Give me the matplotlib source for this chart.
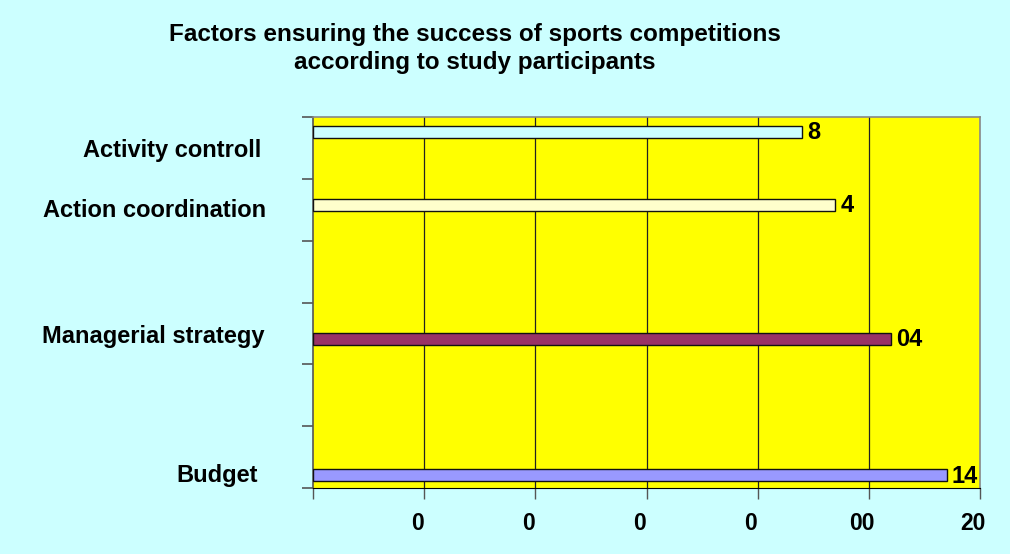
import matplotlib
matplotlib.use("Agg")
import matplotlib.pyplot as plt

# ---- data ----
categories = ["Activity controll", "Action coordination", "Managerial strategy", "Budget"]
values = [88, 94, 104, 114]
value_labels = ["8", "4", "04", "14"]
xtick_values = [0, 20, 40, 60, 80, 100, 120]
xtick_labels = ["", "0", "0", "0", "0", "00", "20"]
title = "Factors ensuring the success of sports competitions\naccording to study participants"

# ---- layout / style ----
bar_colors = ["#CCFFFF", "#FFFFCC", "#993366", "#9999FF"]
bar_y = [5.76, 4.58, 2.41, 0.21]
label_y = [5.46, 4.49, 2.45, 0.21]
label_dx = [52, 47, 48, 55]  # pixels left of the axis
bar_h = 0.19

fig = plt.figure(figsize=(10.10, 5.54), dpi=100, facecolor="#CCFFFF")
ax = fig.add_axes([313/1010, 1-488/554, (980-313)/1010, (488-117)/554])
ax.set_facecolor("#FFFF00")
ax.set_xlim(0, 120)
ax.set_ylim(0, 6)

for x in xtick_values[1:-1]:
    ax.axvline(x, color="#222222", lw=0.9, zorder=1)

ax.barh(bar_y, values, height=bar_h, color=bar_colors, edgecolor="#111111",
        linewidth=1.0, zorder=3)

font = "Liberation Sans"
for y, v, s in zip(bar_y, values, value_labels):
    ax.annotate(s, xy=(v, y), xytext=(5, -1), textcoords="offset pixels",
                ha="left", va="center", fontsize=17, fontweight="bold",
                family=font, color="black", zorder=4, annotation_clip=False)

for y, c, dx in zip(label_y, categories, label_dx):
    ax.annotate(c, xy=(0, y), xycoords=("axes fraction", "data"),
                xytext=(-dx, 0), textcoords="offset pixels",
                ha="right", va="center", fontsize=17, fontweight="bold",
                family=font, color="black", annotation_clip=False)

ax.set_xticks(xtick_values)
ax.set_xticklabels([])
for x, s in zip(xtick_values, xtick_labels):
    ax.annotate(s, xy=(x, 0), xycoords=("data", "axes fraction"),
                xytext=(-7, -35), textcoords="offset pixels",
                ha="center", va="center", fontsize=16.5, fontweight="bold",
                family=font, color="black", annotation_clip=False)
ax.tick_params(axis="x", length=8, width=1, color="#555555")
ax.set_yticks(range(0, 7))
ax.set_yticklabels([])
ax.tick_params(axis="y", length=8, width=1.2, color="#555555")

for side in ["top", "right"]:
    ax.spines[side].set_color("#888888")
    ax.spines[side].set_linewidth(1.2)
ax.spines["left"].set_color("#555555")
ax.spines["left"].set_linewidth(1.2)
ax.spines["bottom"].set_color("black")

fig.text(475/1010, 1-48.5/554, title, ha="center", va="center",
         fontsize=17.5, fontweight="bold", family=font, linespacing=1.32)

fig.savefig("out.png", dpi=100, facecolor=fig.get_facecolor())
